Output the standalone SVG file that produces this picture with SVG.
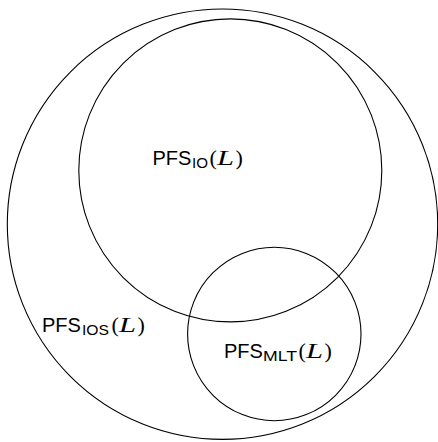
<svg xmlns="http://www.w3.org/2000/svg" width="438" height="442" viewBox="0 0 438 442">
  <style>
    .set { fill: none; stroke: #000; stroke-width: 1.1; }
    .lbl { font-family: "Liberation Sans", Arial, sans-serif; font-size: 20px; fill: #000; }
    .sub { font-family: "Liberation Sans", Arial, sans-serif; font-size: 14.5px; fill: #000; }
    .par { font-family: "Liberation Serif", "Times New Roman", serif; font-size: 22px; fill: #000; }
    .var { font-family: "Liberation Serif", "Times New Roman", serif; font-size: 21px; font-style: italic; fill: #000; }
  </style>
  <rect width="438" height="442" fill="#fff"/>
  <g id="ios">
    <circle class="set" cx="222.5" cy="224.2" r="215.2"/>
    <text class="lbl" x="42" y="332">PFS</text>
    <text class="sub" x="82" y="335" textLength="27" lengthAdjust="spacingAndGlyphs">IOS</text>
    <text class="par" x="111.5" y="332">(</text>
    <text class="var" x="119" y="332" textLength="17" lengthAdjust="spacingAndGlyphs">L</text>
    <text class="par" x="137.5" y="332">)</text>
  </g>
  <g id="io">
    <circle class="set" cx="230.3" cy="170.4" r="151.5"/>
    <text class="lbl" x="152.5" y="165">PFS</text>
    <text class="sub" x="192" y="168" textLength="16" lengthAdjust="spacingAndGlyphs">IO</text>
    <text class="par" x="209.5" y="165">(</text>
    <text class="var" x="217" y="165" textLength="17" lengthAdjust="spacingAndGlyphs">L</text>
    <text class="par" x="235.5" y="165">)</text>
  </g>
  <g id="mlt">
    <circle class="set" cx="274.3" cy="334" r="86.7"/>
    <text class="lbl" x="224" y="358">PFS</text>
    <text class="sub" x="263" y="361" textLength="34" lengthAdjust="spacingAndGlyphs">MLT</text>
    <text class="par" x="298.5" y="358">(</text>
    <text class="var" x="306" y="358" textLength="17" lengthAdjust="spacingAndGlyphs">L</text>
    <text class="par" x="324.5" y="358">)</text>
  </g>
  <g id="connectors"/>
</svg>
